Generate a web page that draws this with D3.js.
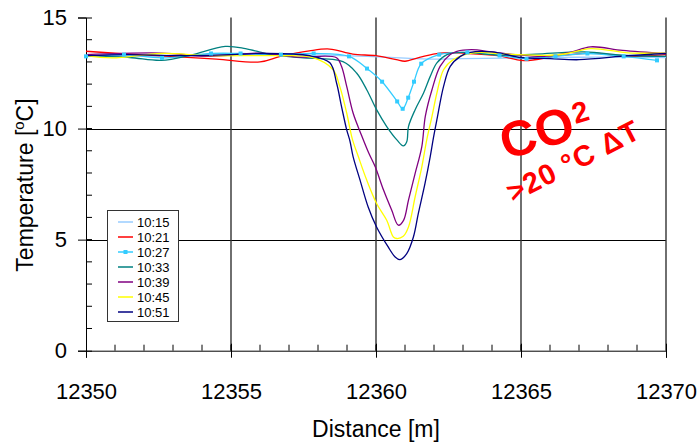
<!DOCTYPE html>
<html>
<head>
<meta charset="utf-8">
<script src="https://cdn.jsdelivr.net/npm/d3@7"></script>
<style>
  body { margin: 0; background: #fff; }
  text { font-family: Arial, "Liberation Sans", sans-serif; }
</style>
</head>
<body>
<svg id="chart"></svg>
<script>
const width = 699;
const height = 442;

// [distance (m), temperature (°C)]
const t1015 = [[12350, 13.3], [12352, 13.25], [12354, 13.3], [12356, 13.35], [12357.4, 13.33], [12359.7, 13.25],
    [12361.8, 13.13], [12363, 13.15], [12364.5, 13.17], [12366.3, 13.2], [12368, 13.22], [12370, 13.2]];

const t1021 = [[12350, 13.48], [12351.5, 13.35], [12352.9, 13.25], [12354.5, 13.13], [12356.0, 13.0], [12356.7, 13.25],
    [12357.7, 13.5], [12358.4, 13.58], [12359.2, 13.35], [12360, 13.28], [12360.7, 13.1], [12361.0, 13.03],
    [12361.5, 13.2], [12362.2, 13.4], [12363.2, 13.38], [12364.2, 13.28], [12365.1, 13.06], [12366.3, 13.28],
    [12367.5, 13.4], [12368.6, 13.25], [12370, 13.33]];

const t1027 = [[12350.0, 13.25], [12351.31, 13.33], [12352.62, 13.18], [12354.31, 13.38], [12355.33, 13.38],
    [12356.72, 13.33], [12357.85, 13.38], [12359.07, 13.25], [12359.69, 12.70], [12360.21, 12.11], [12360.73, 11.22],
    [12360.92, 10.89], [12361.11, 11.39], [12361.31, 12.11], [12361.56, 12.92], [12362.18, 13.33], [12363.15, 13.43],
    [12364.26, 13.29], [12365.19, 13.14], [12366.19, 13.25], [12367.29, 13.38], [12368.54, 13.25], [12369.69, 13.07]];

const t1033 = [[12350, 13.28], [12351.5, 13.2], [12352.6, 13.07], [12353.6, 13.3], [12354.8, 13.7], [12355.5, 13.6],
    [12356.3, 13.35], [12357.4, 13.19], [12358.86, 13.01], [12359.33, 12.50], [12359.68, 11.75], [12360.02, 10.85],
    [12360.37, 10.09], [12360.72, 9.49], [12360.94, 9.22], [12361.06, 9.41], [12361.12, 10.09], [12361.35, 10.85],
    [12361.64, 11.60], [12361.87, 12.35], [12362.10, 12.96], [12362.45, 13.33], [12362.91, 13.43], [12364.3, 13.3],
    [12365.5, 13.35], [12367.2, 13.45], [12368.5, 13.3], [12370, 13.25]];

const t1039 = [[12350, 13.33], [12352.6, 13.4], [12354.3, 13.25], [12356.0, 13.4], [12357.3, 13.22], [12358.64, 13.19],
    [12358.81, 12.80], [12358.99, 11.90], [12359.21, 10.70], [12359.5, 9.7], [12359.75, 8.9], [12359.97, 8.29],
    [12360.26, 7.23], [12360.54, 6.33], [12360.77, 5.65], [12360.95, 5.87], [12361.12, 6.78], [12361.35, 7.98],
    [12361.58, 9.19], [12361.70, 10.55], [12361.93, 11.75], [12362.21, 12.80], [12362.56, 13.33], [12362.79, 13.48],
    [12363.3, 13.55], [12364.0, 13.45], [12364.8, 13.33], [12365.8, 13.25], [12366.7, 13.43], [12367.4, 13.68],
    [12368.5, 13.52], [12370, 13.38]];

const t1045 = [[12350, 13.28], [12350.9, 13.18], [12352.6, 13.38], [12354.3, 13.28], [12356.6, 13.28], [12357.8, 13.2],
    [12358.52, 12.65], [12358.75, 11.90], [12358.99, 10.70], [12359.18, 9.55], [12359.39, 8.74], [12359.68, 7.68],
    [12360.02, 6.63], [12360.37, 5.87], [12360.60, 5.12], [12360.72, 5.05], [12360.94, 5.15], [12361.12, 5.57],
    [12361.35, 6.93], [12361.58, 8.28], [12361.75, 9.49], [12361.93, 10.55], [12362.10, 11.60], [12362.33, 12.65],
    [12362.67, 13.11], [12363.36, 13.41], [12364.5, 13.35], [12366.0, 13.3], [12366.6, 13.38], [12367.4, 13.6],
    [12368.7, 13.41], [12370, 13.4]];

const t1051 = [[12350, 13.28], [12351.5, 13.33], [12353.2, 13.28], [12355, 13.33], [12356.1, 13.38], [12357.7, 13.28],
    [12358.41, 12.96], [12358.64, 12.05], [12358.81, 11.0], [12358.99, 9.94], [12359.1, 9.45], [12359.21, 8.74],
    [12359.45, 7.68], [12359.73, 6.47], [12360.02, 5.57], [12360.42, 4.67], [12360.66, 4.22], [12360.83, 4.10],
    [12361.06, 4.37], [12361.29, 5.12], [12361.46, 6.18], [12361.69, 7.53], [12361.87, 8.74], [12361.98, 9.58],
    [12362.10, 10.40], [12362.33, 11.90], [12362.56, 12.80], [12362.91, 13.25], [12363.25, 13.43], [12364.0, 13.45],
    [12365.0, 13.2], [12366.0, 13.15], [12367.0, 13.1], [12368.7, 13.28], [12370, 13.38]];

const seriesNames = ["10:15", "10:21", "10:27", "10:33", "10:39", "10:45", "10:51"];
const seriesData = [t1015, t1021, t1027, t1033, t1039, t1045, t1051];
const colors = ["#99ccff", "#ff0000", "#33ccff", "#008080", "#800080", "#ffff00", "#000080"];

const xTicks = [12350, 12355, 12360, 12365, 12370];
const yTicks = [0, 5, 10, 15];

const plot = { left: 86, right: 666, top: 17.5, bottom: 350.7 };

const svg = d3.select("#chart")
    .attr("width", width)
    .attr("height", height);

const x = d3.scaleLinear().domain([12350, 12370]).range([plot.left, plot.right]);
const y = d3.scaleLinear().domain([0, 15]).range([plot.bottom, plot.top]);

// grid
svg.append("g").selectAll("line")
    .data([5, 10])
    .enter().append("line")
    .attr("x1", plot.left).attr("x2", plot.right)
    .attr("y1", d => Math.round(y(d)) + 0.5).attr("y2", d => Math.round(y(d)) + 0.5)
    .attr("stroke", "#000").attr("stroke-width", 1);

svg.append("g").selectAll("line")
    .data(xTicks.slice(1))
    .enter().append("line")
    .attr("x1", d => x(d)).attr("x2", d => x(d))
    .attr("y1", plot.top).attr("y2", plot.bottom)
    .attr("stroke", "#333").attr("stroke-width", 1.4);

// minor ticks
svg.append("g").selectAll("line")
    .data(d3.range(12351, 12370))
    .enter().append("line")
    .attr("x1", d => x(d)).attr("x2", d => x(d))
    .attr("y1", plot.bottom).attr("y2", plot.bottom - 6)
    .attr("stroke", "#000");

svg.append("g").selectAll("line")
    .data(d3.range(1, 15))
    .enter().append("line")
    .attr("x1", plot.left).attr("x2", plot.left + 6)
    .attr("y1", d => y(d)).attr("y2", d => y(d))
    .attr("stroke", "#000");

// axes
const xAxis = svg.append("g")
    .attr("transform", `translate(0,${plot.bottom})`)
    .call(d3.axisBottom(x).tickValues(xTicks).tickFormat(d3.format("d")).tickSize(7).tickPadding(26));
xAxis.selectAll(".tick line").attr("y1", -7).attr("stroke", "#000");
xAxis.select(".domain").attr("stroke", "#000");
xAxis.selectAll("text").attr("font-size", 22).attr("fill", "#000")
    .attr("font-family", "Arial, 'Liberation Sans', sans-serif");

const yAxis = svg.append("g")
    .attr("transform", `translate(${plot.left},0)`)
    .call(d3.axisLeft(y).tickValues(yTicks).tickSize(8).tickPadding(11));
yAxis.selectAll(".tick line").attr("x1", 6).attr("stroke", "#000");
yAxis.select(".domain").attr("stroke", "#000");
yAxis.selectAll("text").attr("font-size", 22).attr("fill", "#000")
    .attr("font-family", "Arial, 'Liberation Sans', sans-serif");

// curves
const line = d3.line()
    .x(d => x(d[0]))
    .y(d => y(d[1]))
    .curve(d3.curveCatmullRom.alpha(0.5));

seriesData.forEach((data, i) => {
    svg.append("path")
        .datum(data)
        .attr("fill", "none")
        .attr("stroke", colors[i])
        .attr("stroke-width", 1.3)
        .attr("d", line);
});

svg.append("g").selectAll("rect")
    .data(t1027)
    .enter().append("rect")
    .attr("x", d => x(d[0]) - 2)
    .attr("y", d => y(d[1]) - 2)
    .attr("width", 4).attr("height", 4)
    .attr("fill", colors[2]);

// axis titles
svg.append("text")
    .attr("x", 376).attr("y", 437)
    .attr("text-anchor", "middle")
    .attr("font-size", 23)
    .text("Distance [m]");

const yTitle = svg.append("text")
    .attr("transform", "translate(33,185) rotate(-90)")
    .attr("text-anchor", "middle")
    .attr("font-size", 23);
yTitle.append("tspan").text("Temperature [");
yTitle.append("tspan").attr("font-size", 15).attr("dy", -9).text("o");
yTitle.append("tspan").attr("dy", 9).text("C]");

// legend
const legend = svg.append("g").attr("transform", "translate(107,210)");
legend.append("rect")
    .attr("x", 0.5).attr("y", 0.5)
    .attr("width", 71).attr("height", 111)
    .attr("fill", "#fff").attr("stroke", "#333");

seriesNames.forEach((name, i) => {
    const ly = 12 + i * 15;
    legend.append("line")
        .attr("x1", 11).attr("x2", 26)
        .attr("y1", ly).attr("y2", ly)
        .attr("stroke", colors[i]).attr("stroke-width", 1.5);
    if (i === 2) {
        legend.append("rect")
            .attr("x", 16.5).attr("y", ly - 2)
            .attr("width", 4).attr("height", 4)
            .attr("fill", colors[i]);
    }
    legend.append("text")
        .attr("x", 30).attr("y", ly + 5)
        .attr("font-size", 13)
        .text(name);
});

// annotation
const co2 = svg.append("text")
    .attr("transform", "translate(506,160) rotate(-17)")
    .attr("fill", "#ff0000")
    .attr("font-weight", "bold")
    .attr("font-size", 50);
co2.append("tspan").text("CO");
co2.append("tspan").attr("font-size", 29).attr("dx", 2).attr("dy", -14).text("2");

svg.append("text")
    .attr("transform", "translate(513,203) rotate(-27)")
    .attr("fill", "#ff0000")
    .attr("font-weight", "bold")
    .attr("font-size", 29)
    .attr("letter-spacing", 1)
    .text(">20 °C ΔT");
</script>
</body>
</html>
